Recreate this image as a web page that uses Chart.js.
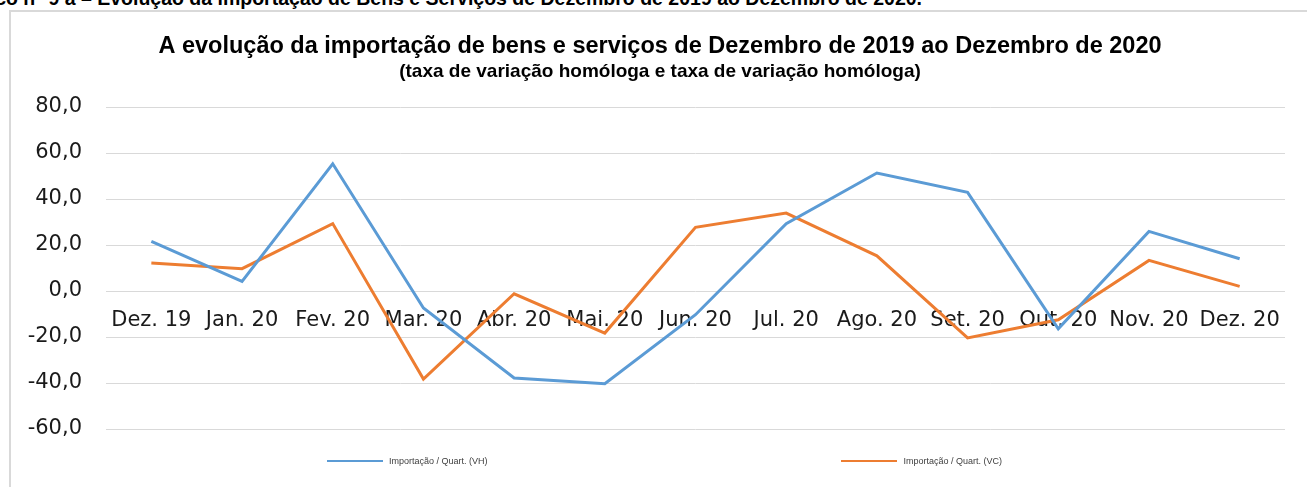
<!DOCTYPE html>
<html>
<head>
<meta charset="utf-8">
<script src="https://cdn.jsdelivr.net/npm/chart.js@4"></script>
<style>
    html, body { margin: 0; padding: 0; background: #fff; }
    body { width: 1307px; height: 487px; position: relative; overflow: hidden; }
    .cabecalho {
        position: absolute; top: -12px; right: 385px; white-space: nowrap;
        font: bold 19.5px "Liberation Sans", Arial, sans-serif; line-height: 20px; color: #000;
    }
    .moldura {
        position: absolute; left: 9px; top: 10px; width: 1400px; height: 600px;
        border: 2px solid #d9d9d9;
    }
    #grafico { position: absolute; left: 0; top: 0; }
    #legenda {
        position: absolute; left: 327px; top: 456px; width: 675px;
        display: flex; justify-content: space-between;
        font: 9px "Liberation Sans", Arial, sans-serif; color: #404040;
    }
    #legenda .item { display: flex; align-items: center; }
    #legenda .linha { width: 56px; height: 2px; margin-right: 6px; }
</style>
</head>
<body>
<div class="cabecalho">Gráfico n° 9 a – Evolução da importação de Bens e Serviços de Dezembro de 2019 ao Dezembro de 2020.</div>
<div class="moldura"></div>
<canvas id="grafico" width="1307" height="487"></canvas>
<div id="legenda"></div>
<script>
// Dados
const meses = ['Dez. 19', 'Jan. 20', 'Fev. 20', 'Mar. 20', 'Abr. 20', 'Mai. 20', 'Jun. 20',
    'Jul. 20', 'Ago. 20', 'Set. 20', 'Out. 20', 'Nov. 20', 'Dez. 20'];
const importacaoVH = [21.6, 4.2, 55.3, -7.4, -37.8, -40.3, -10.3, 29.3, 51.3, 42.9, -16.4, 25.9, 14.0];
const importacaoVC = [12.2, 9.7, 29.3, -38.3, -1.2, -18.3, 27.7, 33.9, 15.3, -20.4, -12.5, 13.3, 2.0];
const seriesNomes = ['Importação / Quart. (VH)', 'Importação / Quart. (VC)'];
const eixoY = { min: -60, max: 80, passo: 20 };

const titulo = 'A evolução da importação de bens e serviços de Dezembro de 2019 ao Dezembro de 2020';
const subtitulo = '(taxa de variação homóloga e taxa de variação homóloga)';

const ctx = document.getElementById('grafico');
const chart = new Chart(ctx.getContext('2d'), {
    type: 'line',
    data: {
        labels: meses,
        datasets: [
            {
                label: seriesNomes[0],
                data: importacaoVH,
                borderColor: '#5b9bd5',
                backgroundColor: '#5b9bd5',
                borderWidth: 3,
                pointRadius: 0,
                tension: 0
            },
            {
                label: seriesNomes[1],
                data: importacaoVC,
                borderColor: '#ed7d31',
                backgroundColor: '#ed7d31',
                borderWidth: 3,
                pointRadius: 0,
                tension: 0
            }
        ]
    },
    options: {
        responsive: false,
        animation: false,
        devicePixelRatio: 1,
        layout: { padding: { left: 35, right: 22, top: 0, bottom: 58 } },
        plugins: {
            legend: { display: false },
            tooltip: { enabled: false },
            title: {
                display: true,
                text: titulo,
                color: '#000',
                font: { family: 'Liberation Sans', size: 23.5, weight: 'bold' },
                padding: { top: 32, bottom: 0 }
            },
            subtitle: {
                display: true,
                text: subtitulo,
                color: '#000',
                font: { family: 'Liberation Sans', size: 19, weight: 'bold' },
                padding: { top: 0, bottom: 24 }
            }
        },
        scales: {
            x: {
                position: { y: 0 },
                offset: true,
                grid: { display: false, drawTicks: false },
                border: { display: false },
                ticks: {
                    color: '#1a1a1a',
                    padding: 17,
                    maxRotation: 0,
                    autoSkip: false,
                    font: { family: 'DejaVu Sans', size: 21 }
                },
                // as etiquetas ficam dentro da área, sem margem extra
                afterFit: function (scale) {
                    scale.paddingLeft = 0;
                    scale.paddingRight = 0;
                }
            },
            y: {
                min: eixoY.min,
                max: eixoY.max,
                grid: { color: '#d9d9d9', lineWidth: 1, drawTicks: false },
                border: { display: false },
                ticks: {
                    stepSize: eixoY.passo,
                    color: '#1a1a1a',
                    padding: 24,
                    font: { family: 'DejaVu Sans', size: 21 },
                    callback: function (value) {
                        return value.toFixed(1).replace('.', ',');
                    }
                },
                // eixo mais estreito para o título ficar centrado como no original;
                // sem recorte, para o sinal de menos não ser cortado
                afterFit: function (scale) {
                    scale.width = 71;
                    scale._computeLabelArea = function () { return undefined; };
                }
            }
        }
    }
});

// Legenda em HTML, afastada como no original
const legenda = document.getElementById('legenda');
chart.data.datasets.forEach(function (ds) {
    const item = document.createElement('div');
    item.className = 'item';
    const linha = document.createElement('span');
    linha.className = 'linha';
    linha.style.background = ds.borderColor;
    const texto = document.createElement('span');
    texto.textContent = ds.label;
    item.appendChild(linha);
    item.appendChild(texto);
    legenda.appendChild(item);
});
</script>
</body>
</html>
